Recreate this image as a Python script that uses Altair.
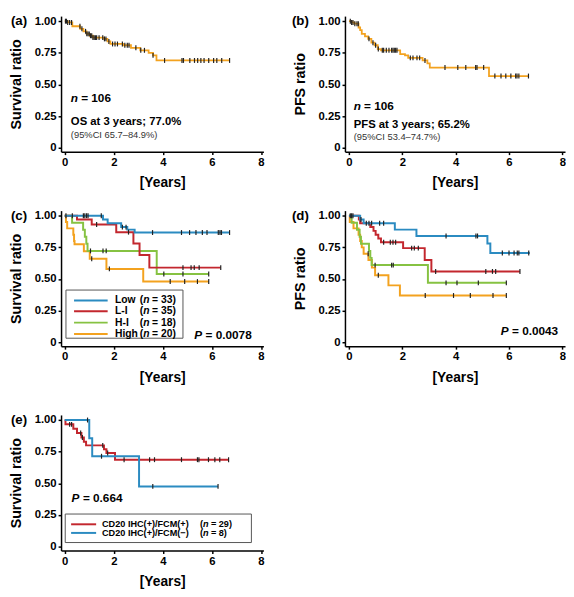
import altair as alt
import pandas as pd

FONT = "Liberation Sans"
ORANGE = "#F3A21F"
BLUE = "#2B8BC1"
RED = "#C3272E"
GREEN = "#86C242"
TICK = "#222222"

# ---------------- data ----------------
# (a) overall survival, all patients (n = 106)
os_all_t = [0.12, 0.31, 0.63, 0.76, 0.89, 1.02, 1.15, 1.60, 1.74, 1.86, 2.38, 2.70, 3.08, 3.42, 3.60, 3.74]
os_all_s = [0.99, 0.96, 0.94, 0.92, 0.90, 0.885, 0.87, 0.86, 0.84, 0.82, 0.81, 0.79, 0.77, 0.75, 0.73, 0.69]
os_all_end = 6.72
os_all_cens = [0.03, 0.07, 0.12, 0.20, 0.28, 0.62, 0.70, 0.85, 0.90, 0.95, 1.00, 1.05, 1.10, 1.15,
               1.20, 1.25, 1.30, 1.40, 1.55, 1.62, 1.68, 1.80, 1.95, 2.05, 2.15, 2.35, 2.45, 2.55,
               2.62, 2.90, 3.10, 3.25, 3.60, 4.07, 4.78, 4.84, 5.10, 5.29, 5.42, 5.55, 5.68, 5.87,
               6.07, 6.20, 6.40, 6.72]

# (b) progression-free survival, all patients (n = 106)
pfs_all_t = [0.10, 0.20, 0.36, 0.42, 0.48, 0.60, 0.72, 0.84, 0.96, 1.08, 1.20, 1.92, 2.10, 2.22, 2.76, 2.94, 3.03, 5.25]
pfs_all_s = [0.99, 0.98, 0.95, 0.93, 0.90, 0.88, 0.86, 0.83, 0.81, 0.78, 0.77, 0.74, 0.73, 0.71, 0.69, 0.667, 0.634, 0.567]
pfs_all_end = 6.73
pfs_all_cens = [0.05, 0.10, 0.15, 0.22, 0.30, 0.35, 0.75, 0.90, 1.00, 1.10, 1.25, 1.30, 1.40, 1.50,
                1.60, 1.65, 1.70, 1.75, 1.80, 2.30, 2.40, 2.55, 2.65, 2.85, 3.60, 4.08, 4.38, 4.75,
                4.80, 5.05, 5.47, 5.70, 5.88, 6.07, 6.25, 6.30, 6.37, 6.73]

# (c) overall survival by group
groups = ["Low", "L-I", "H-I", "High"]
group_n = [33, 35, 18, 20]
group_colors = [BLUE, RED, GREEN, ORANGE]

os_low_t = [1.56, 1.75, 2.30, 2.55, 2.85]
os_low_s = [0.97, 0.94, 0.91, 0.89, 0.867]
os_low_end = 6.72
os_low_cens = [0.05, 0.31, 0.76, 0.82, 0.89, 0.95, 1.49, 2.35, 2.50, 3.58, 4.76, 5.09, 5.35, 5.61,
               5.80, 6.26, 6.33, 6.39, 6.72]
os_li_t = [0.50, 1.10, 2.10, 2.80, 3.05, 3.45]
os_li_s = [0.97, 0.93, 0.87, 0.78, 0.69, 0.59]
os_li_end = 6.36
os_li_cens = [1.30, 2.60, 4.82, 5.15, 5.28, 5.48, 6.36]
os_hi_t = [0.30, 0.75, 0.82, 0.88, 0.93, 3.75]
os_hi_s = [0.944, 0.889, 0.833, 0.778, 0.722, 0.54]
os_hi_end = 5.87
os_hi_cens = [1.05, 1.56, 1.69, 4.04, 4.82, 5.87]
os_high_t = [0.05, 0.10, 0.35, 0.38, 0.40, 0.78, 1.02, 1.70, 3.20]
os_high_s = [0.95, 0.90, 0.85, 0.80, 0.775, 0.72, 0.66, 0.58, 0.48]
os_high_end = 5.87
os_high_cens = [1.10, 1.82, 4.30, 4.89, 5.41, 5.87]

# (d) progression-free survival by group
pfs_low_t = [0.42, 0.55, 1.72, 2.53, 5.19, 5.30]
pfs_low_s = [0.97, 0.94, 0.89, 0.84, 0.78, 0.706]
pfs_low_end = 6.78
pfs_low_cens = [0.05, 0.15, 0.45, 0.65, 0.75, 0.85, 1.15, 1.30, 3.64, 4.76, 4.82, 5.75, 6.00, 6.19,
                6.31, 6.37, 6.74]
pfs_li_t = [0.37, 0.42, 0.80, 0.92, 1.00, 1.10, 1.20, 2.03, 2.84, 3.09]
pfs_li_s = [0.97, 0.94, 0.91, 0.88, 0.85, 0.82, 0.79, 0.744, 0.65, 0.56]
pfs_li_end = 6.41
pfs_li_cens = [0.10, 1.30, 1.55, 1.65, 1.75, 2.35, 2.45, 2.60, 3.25, 5.13, 5.38, 5.50, 6.41]
pfs_hi_t = [0.10, 0.30, 0.40, 0.45, 0.75, 0.80, 0.85, 2.96]
pfs_hi_s = [0.944, 0.889, 0.833, 0.778, 0.722, 0.667, 0.61, 0.47]
pfs_hi_end = 5.90
pfs_hi_cens = [0.98, 1.60, 1.66, 3.64, 4.05, 4.85, 5.90]
pfs_high_t = [0.03, 0.17, 0.36, 0.42, 0.48, 0.55, 0.73, 0.86, 0.98, 1.48, 1.91]
pfs_high_s = [0.95, 0.90, 0.85, 0.80, 0.75, 0.70, 0.65, 0.59, 0.53, 0.45, 0.37]
pfs_high_end = 5.90
pfs_high_cens = [0.72, 1.10, 2.86, 3.92, 4.55, 5.40, 5.90]

# (e) overall survival by CD20 FCM status
fcm_labels = ["CD20 IHC(+)/FCM(+)", "CD20 IHC(+)/FCM(\u2212)"]
fcm_n = [29, 8]
fcm_colors = [RED, BLUE]
fcm_pos_t = [0.03, 0.35, 0.50, 0.68, 0.78, 0.87, 1.60, 1.70, 2.05]
fcm_pos_s = [0.966, 0.931, 0.897, 0.862, 0.828, 0.80, 0.77, 0.74, 0.687]
fcm_pos_end = 6.68
fcm_pos_cens = [0.20, 0.28, 0.65, 0.72, 1.55, 1.75, 2.42, 3.46, 3.66, 4.76, 5.41, 5.47, 5.86, 6.12,
                6.32, 6.68]
fcm_neg_t = [1.00, 1.12, 3.03]
fcm_neg_s = [0.857, 0.714, 0.476]
fcm_neg_end = 6.25
fcm_neg_cens = [0.93, 1.50, 3.59, 6.25]

# ---------------- helpers ----------------
XDOM = [-0.15, 8.1]
YDOM = [-0.03, 1.04]
LW, RW, H = 206, 224, 138


def X():
    return alt.X("t:Q", scale=alt.Scale(domain=XDOM, nice=False, zero=False),
                 axis=alt.Axis(values=[0, 2, 4, 6, 8], title="[Years]", format="d", labelFlush=False))


def Y(title):
    return alt.Y("s:Q", scale=alt.Scale(domain=YDOM, nice=False, zero=False),
                 axis=alt.Axis(values=[0, 0.25, 0.5, 0.75, 1.0], title=title,
                               labelExpr="datum.value == 0 ? '0' : format(datum.value, '.2f')"))


def curve_df(times, surv, end):
    return pd.DataFrame({"t": [0.0] + list(times) + [end],
                         "s": [1.0] + list(surv) + [surv[-1]]})


def cens_df(times, surv, cens):
    vals = []
    for c in cens:
        v = 1.0
        for t, s in zip(times, surv):
            if t <= c:
                v = s
        vals.append(v)
    return pd.DataFrame({"t": list(cens), "s": vals})


def txt(t, s, label, ytitle, size=12, weight="bold", style="normal", dx=0, color="black"):
    return alt.Chart(pd.DataFrame({"t": [t], "s": [s], "label": [label]})).mark_text(
        align="left", baseline="middle", font=FONT, fontSize=size, fontWeight=weight,
        fontStyle=style, dx=dx, color=color).encode(x=X(), y=Y(ytitle), text="label:N")


def panel(curves, ytitle, label, width, lw, extras, label_dx):
    layers = []
    for times, surv, end, cens, color in curves:
        layers.append(alt.Chart(curve_df(times, surv, end)).mark_line(
            interpolate="step-after", color=color, strokeWidth=lw).encode(x=X(), y=Y(ytitle)))
    for times, surv, end, cens, color in curves:
        layers.append(alt.Chart(cens_df(times, surv, cens)).mark_rule(
            color=TICK, strokeWidth=1.2, yOffset=-2.5, y2Offset=2.5).encode(
            x=X(), y=Y(ytitle), y2=alt.Y2("s:Q")))
    layers.append(alt.Chart(pd.DataFrame({"t": [0.0], "s": [1.0], "label": [label]})).mark_text(
        align="left", baseline="middle", font=FONT, fontSize=13.5, fontWeight="bold",
        color="black").encode(x=alt.value(label_dx), y=Y(ytitle), text="label:N"))
    layers.extend(extras)
    return alt.layer(*layers).properties(width=width, height=H)


def legend(ytitle, box, line_x, rows, label_t, paren_t, labels, ns, colors, size, n_dx, eq_dx):
    out = []
    out.append(alt.Chart(pd.DataFrame({"t": [box[0]], "t2": [box[1]], "s": [box[2]], "s2": [box[3]]}))
               .mark_rect(fill="white", stroke="#555555", strokeWidth=1)
               .encode(x=X(), x2="t2:Q", y=Y(ytitle), y2="s2:Q"))
    for lab, n, col, r in zip(labels, ns, colors, rows):
        out.append(alt.Chart(pd.DataFrame({"t": [line_x[0]], "t2": [line_x[1]], "s": [r]}))
                   .mark_rule(color=col, strokeWidth=2).encode(x=X(), x2="t2:Q", y=Y(ytitle)))
        out.append(txt(label_t, r, lab, ytitle, size=size))
        out.append(txt(paren_t, r, "(", ytitle, size=size))
        out.append(txt(paren_t, r, "n", ytitle, size=size, style="italic", dx=n_dx))
        out.append(txt(paren_t, r, "= %d)" % n, ytitle, size=size, dx=eq_dx))
    return out


# ---------------- panels ----------------
pa = panel([(os_all_t, os_all_s, os_all_end, os_all_cens, ORANGE)], "Survival ratio", "(a)", LW, 1.8,
           [txt(0.25, 0.39, "n", "Survival ratio", style="italic"),
            txt(0.25, 0.39, "= 106", "Survival ratio", dx=10.5),
            txt(0.25, 0.20, "OS at 3 years; 77.0%", "Survival ratio", size=11.5),
            txt(0.25, 0.10, "(95%CI 65.7\u201384.9%)", "Survival ratio", size=9.5, weight="normal",
                color="#333333")], -51)

pb = panel([(pfs_all_t, pfs_all_s, pfs_all_end, pfs_all_cens, ORANGE)], "PFS ratio", "(b)", RW, 1.8,
           [txt(0.18, 0.33, "n", "PFS ratio", style="italic"),
            txt(0.18, 0.33, "= 106", "PFS ratio", dx=10.5),
            txt(0.18, 0.177, "PFS at 3 years; 65.2%", "PFS ratio", size=11.5),
            txt(0.18, 0.087, "(95%CI 53.4\u201374.7%)", "PFS ratio", size=9.5, weight="normal",
                color="#333333")], -54)

pc = panel([(os_high_t, os_high_s, os_high_end, os_high_cens, ORANGE),
            (os_hi_t, os_hi_s, os_hi_end, os_hi_cens, GREEN),
            (os_li_t, os_li_s, os_li_end, os_li_cens, RED),
            (os_low_t, os_low_s, os_low_end, os_low_cens, BLUE)],
           "Survival ratio", "(c)", LW, 2,
           legend("Survival ratio", (0.05, 4.82, 0.413, 0.033), (0.38, 1.75),
                  [0.331, 0.246, 0.156, 0.067], 2.05, 3.06, groups, group_n, group_colors,
                  10.5, 3.5, 12.5)
           + [txt(5.28, 0.054, "P", "Survival ratio", style="italic"),
              txt(5.28, 0.054, "= 0.0078", "Survival ratio", dx=11.5)], -51)

pd_ = panel([(pfs_high_t, pfs_high_s, pfs_high_end, pfs_high_cens, ORANGE),
             (pfs_hi_t, pfs_hi_s, pfs_hi_end, pfs_hi_cens, GREEN),
             (pfs_li_t, pfs_li_s, pfs_li_end, pfs_li_cens, RED),
             (pfs_low_t, pfs_low_s, pfs_low_end, pfs_low_cens, BLUE)],
            "PFS ratio", "(d)", RW, 2,
            [txt(5.69, 0.093, "P", "PFS ratio", style="italic"),
             txt(5.69, 0.093, "= 0.0043", "PFS ratio", dx=11.5)], -54)

pe = panel([(fcm_pos_t, fcm_pos_s, fcm_pos_end, fcm_pos_cens, RED),
            (fcm_neg_t, fcm_neg_s, fcm_neg_end, fcm_neg_cens, BLUE)],
           "Survival ratio", "(e)", LW, 2,
           legend("Survival ratio", (0.02, 7.61, 0.258, 0.033), (0.26, 1.28),
                  [0.177, 0.109], 1.52, 5.51, fcm_labels, fcm_n, fcm_colors,
                  9.3, 3.1, 11.2)
           + [txt(0.28, 0.385, "P", "Survival ratio", style="italic"),
              txt(0.28, 0.385, "= 0.664", "Survival ratio", dx=11.5)], -51)

top = alt.vconcat(alt.hconcat(pa, pb, spacing=26),
                  alt.hconcat(pc, pd_, spacing=26),
                  spacing=18)
chart = alt.vconcat(top, pe, spacing=28).properties(
    padding={"left": 0, "top": 0, "right": 0, "bottom": 0}).configure_view(
    stroke="transparent").configure_axis(
    domainColor="black", domainWidth=1.5, tickColor="black", tickWidth=1.5, tickSize=3,
    labelFont=FONT, labelFontWeight="bold", labelFontSize=11.5, labelColor="black", labelPadding=2,
    titleFont=FONT, titleFontWeight="bold", titleColor="black", grid=False).configure_axisX(
    titleFontSize=14, titlePadding=8).configure_axisY(titleFontSize=14.5, titlePadding=11)

chart.save("out.html", embed_options={"renderer": "svg", "actions": False})
